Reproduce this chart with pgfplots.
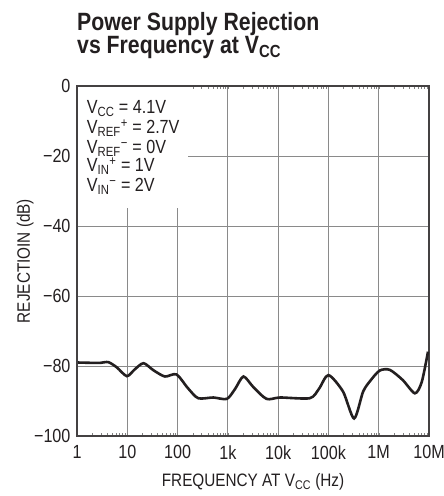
\documentclass[border=0pt]{standalone}
\usepackage{pgfplots}
\pgfplotsset{compat=1.18}
\usepackage{fontspec}
\setmainfont{Liberation Sans}[FakeStretch=0.85]
\definecolor{ink}{HTML}{231F20}
\definecolor{gridc}{HTML}{8A8A8A}
\begin{document}
\begin{tikzpicture}
\useasboundingbox (-77pt,-60pt) rectangle (367pt,436pt);
\begin{axis}[
  scale only axis,
  width=352pt, height=350pt,
  xmode=log,
  xmin=1, xmax=1e7,
  ymin=-100, ymax=0,
  xtick={1,10,100,1000,10000,100000,1000000,10000000},
  xticklabels={1,10,100,1k,10k,100k,1M,10M},
  ytick={-100,-80,-60,-40,-20,0},
  yticklabels={−100,−80,−60,−40,−20,0},
  minor xtick={}, 
  major tick length=0pt,
  grid=major,
  major grid style={gridc, line width=0.9pt},
  axis line style={ink!85, line width=1.3pt},
  tick label style={font=\fontsize{19}{19}\selectfont, text=ink},
  xticklabel style={yshift=-6pt},
  yticklabel style={xshift=-3pt},
  clip=false,
]
\addplot[ink, line width=2.6pt, smooth, tension=0.45] coordinates {
  (1,-79.0) (2,-79.1) (2.9,-79.1) (4.2,-78.9) (6.2,-80.4) (9.8,-82.9)
  (14,-81.0) (21,-79.2) (33,-81.2) (56,-83.0) (95,-82.4)
  (160,-86.3) (257,-89.2) (513,-89.0) (955,-89.4)
  (1400,-86.5) (2042,-83.0) (3200,-86.0) (5888,-89.4) (10965,-89.0)
  (42658,-89.2) (65000,-86.5) (100000,-82.6) (195000,-87.3) (324000,-95.0)
  (490000,-87.3) (700000,-84.0) (1047000,-81.3) (1660000,-81.1)
  (3000000,-84.0) (5250000,-87.8) (7200000,-84.5) (9550000,-75.9)
};
\fill[white] (axis cs:1,0) rectangle (axis cs:161,-34.9);
\draw[ink!85, line width=1.3pt] (rel axis cs:0,0) -- (rel axis cs:0,1) -- (rel axis cs:1,1);
\end{axis}
\begin{scope}[every node/.style={anchor=base west, inner sep=0pt, text=ink, font=\fontsize{19}{19}\selectfont}]
\node at (9.7pt,322.7pt) {V\textsubscript{CC} = 4.1V};
\node at (9.7pt,302.7pt) {V\textsubscript{REF}\textsuperscript{+} = 2.7V};
\node at (9.7pt,282.7pt) {V\textsubscript{REF}\textsuperscript{−} = 0V};
\node at (9.7pt,264.3pt) {V\textsubscript{IN}\textsuperscript{+} = 1V};
\node at (9.7pt,244.3pt) {V\textsubscript{IN}\textsuperscript{−} = 2V};
\end{scope}
\node[anchor=base west, inner sep=0pt, text=ink, font=\fontsize{25}{23}\selectfont\bfseries] at (0pt,405pt) {Power Supply Rejection};
\node[anchor=base west, inner sep=0pt, text=ink, font=\fontsize{25}{23}\selectfont\bfseries] at (0pt,382.7pt) {vs Frequency at V\textsubscript{CC}};
\node[anchor=base, inner sep=0pt, text=ink, font=\fontsize{18}{18}\selectfont] at (176pt,-50.7pt) {FREQUENCY AT V\textsubscript{CC} (Hz)};
\node[anchor=base, rotate=90, inner sep=0pt, text=ink, font=\fontsize{18}{18}\selectfont] at (-47pt,175pt) {REJECTIOIN (dB)};
\end{tikzpicture}
\end{document}
